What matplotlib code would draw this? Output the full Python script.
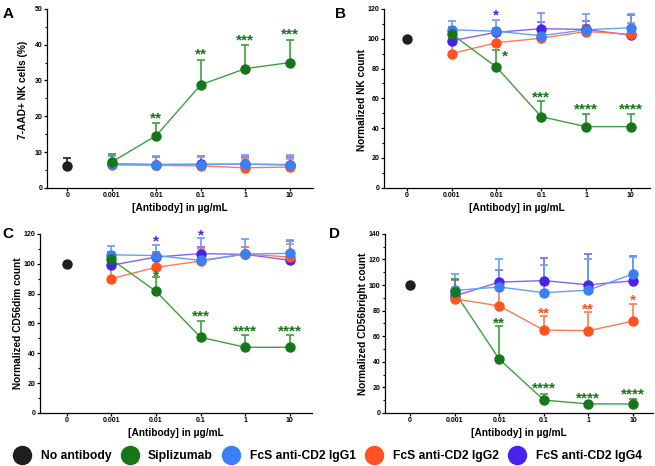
import numpy as np
import matplotlib
matplotlib.use("Agg")
import matplotlib.pyplot as plt
from matplotlib.lines import Line2D
from matplotlib.ticker import MultipleLocator

doses = ["0", "0.001", "0.01", "0.1", "1", "10"]

names = ["No antibody", "Siplizumab", "FcS anti-CD2 IgG1", "FcS anti-CD2 IgG2", "FcS anti-CD2 IgG4"]
colors = ["#1b1f1f", "#17761a", "#3a80f2", "#ff5322", "#4a22ef"]
line_colors = ["#1b1f1f", "#3ca13c", "#62a0f7", "#ff7a52", "#8a5ef5"]

# panel A: 7-AAD+ NK cells (%)  -- mean, upper error
a_none = (6.1, 8.4)
a_sip = [7.2, 14.6, 28.8, 33.3, 35.0]
a_sip_err = [9.5, 18.0, 35.6, 39.8, 41.3]
a_g1 = [6.6, 6.5, 6.5, 6.6, 6.5]
a_g1_err = [8.8, 8.7, 8.8, 9.2, 9.2]
a_g2 = [6.4, 6.3, 6.1, 5.6, 5.8]
a_g2_err = [9.0, 8.8, 8.7, 8.0, 8.0]
a_g4 = [6.7, 6.5, 6.6, 6.6, 6.4]
a_g4_err = [9.3, 8.6, 8.8, 8.6, 8.5]

# panel B: normalized NK count
b_none = (100, 100)
b_sip = [103.2, 81.0, 47.7, 41.0, 41.0]
b_sip_err = [107.0, 92.3, 58.5, 49.5, 49.5]
b_g1 = [106.0, 105.0, 102.0, 106.0, 107.3]
b_g1_err = [112.0, 112.8, 117.0, 116.5, 116.5]
b_g2 = [90.0, 97.3, 100.3, 104.8, 103.0]
b_g2_err = [106.0, 107.0, 105.0, 109.5, 110.5]
b_g4 = [98.6, 104.3, 106.7, 106.2, 102.3]
b_g4_err = [108.0, 107.0, 111.2, 112.0, 116.0]

# panel C: normalized CD56dim count
c_none = (100, 100)
c_sip = [103.0, 81.5, 50.7, 44.0, 44.0]
c_sip_err = [106.0, 91.0, 61.5, 52.5, 52.5]
c_g1 = [106.0, 105.5, 102.3, 106.5, 107.0]
c_g1_err = [112.0, 112.5, 117.0, 116.5, 116.0]
c_g2 = [90.0, 97.6, 101.8, 106.5, 104.5]
c_g2_err = [107.0, 108.0, 110.0, 111.5, 113.0]
c_g4 = [99.0, 104.5, 106.8, 106.3, 102.3]
c_g4_err = [108.0, 108.0, 111.0, 111.0, 115.5]

# panel D: normalized CD56bright count
d_none = (100, 100)
d_sip = [94.5, 42.0, 10.0, 7.0, 7.0]
d_sip_err = [104.5, 68.0, 15.0, 7.5, 10.5]
d_g1 = [95.8, 98.5, 94.0, 96.0, 108.7]
d_g1_err = [109.0, 120.5, 116.0, 120.0, 122.0]
d_g2 = [89.2, 83.7, 64.8, 64.3, 71.8]
d_g2_err = [104.5, 98.0, 75.8, 79.3, 85.5]
d_g4 = [91.5, 102.3, 103.5, 100.2, 103.3]
d_g4_err = [104.0, 112.0, 121.5, 124.0, 122.5]

# significance marks: (dose index, y, text, series index, x offset)
a_stars = [(2, 19.7, "**", 1, 0), (3, 37.5, "**", 1, 0), (4, 41.4, "***", 1, 0), (5, 43.1, "***", 1, 0)]
b_stars = [(2, 116.0, "*", 4, 0), (2, 89.0, "*", 1, 0.2), (3, 61.5, "***", 1, 0),
           (4, 53.5, "****", 1, 0), (5, 53.5, "****", 1, 0)]
c_stars = [(2, 116.0, "*", 4, 0), (3, 119.5, "*", 4, 0), (2, 92.5, "*", 1, 0),
           (3, 65.5, "***", 1, 0), (4, 55.5, "****", 1, 0), (5, 55.5, "****", 1, 0)]
d_stars = [(2, 71.0, "**", 1, 0), (3, 79.0, "**", 3, 0), (4, 81.5, "**", 3, 0), (5, 88.5, "*", 3, 0),
           (3, 20.0, "****", 1, 0), (4, 12.5, "****", 1, 0), (5, 15.0, "****", 1, 0)]

fig = plt.figure(figsize=(6.55, 4.66), dpi=100)
plt.rcParams["font.family"] = "Liberation Sans"


def draw_panel(rect, xlim, ymax, ymajor, yminor, ylabel, ylab_xy, none, series, errs, stars):
    ax = fig.add_axes(rect)
    xs = np.arange(1, 6)
    # draw order: IgG4, IgG2, IgG1, Siplizumab
    for i in [4, 3, 2, 1]:
        m = np.array(series[i - 1])
        e = np.array(errs[i - 1]) - m
        ax.errorbar(xs, m, yerr=[np.zeros_like(e), e], fmt="none", ecolor=line_colors[i],
                    elinewidth=1.2, capsize=2.8, capthick=1.2, zorder=2)
        ax.plot(xs, m, "-", color=line_colors[i], lw=1.0, zorder=3)
        ax.plot(xs, m, "o", color=colors[i], ms=6.5, zorder=4)
    ax.errorbar([0], [none[0]], yerr=[[0], [none[1] - none[0]]], fmt="none", ecolor=colors[0],
                elinewidth=1.2, capsize=2.8, capthick=1.2)
    ax.plot([0], [none[0]], "o", color=colors[0], ms=6.5, zorder=4)
    for xi, y, s, ci, dx in stars:
        ax.annotate(s, (xi + dx, y), xytext=(0, -0.8), textcoords="offset points",
                    color=colors[ci], fontsize=11, fontweight="bold",
                    ha="center", va="center", zorder=5)
    ax.set_xlim(*xlim)
    ax.set_ylim(0, ymax)
    ax.set_xticks(range(6))
    ax.set_xticklabels(doses)
    ax.yaxis.set_major_locator(MultipleLocator(ymajor))
    ax.yaxis.set_minor_locator(MultipleLocator(yminor))
    for sp in ["top", "right"]:
        ax.spines[sp].set_visible(False)
    for sp in ["left", "bottom"]:
        ax.spines[sp].set_linewidth(0.9)
    ax.tick_params(labelsize=5.0, length=2.5, width=0.9, pad=0.8)
    ax.tick_params(which="minor", length=1.8, width=0.8)
    for lab in ax.get_xticklabels() + ax.get_yticklabels():
        lab.set_fontweight("bold")
    ax.set_ylabel(ylabel, fontsize=7.3, fontweight="bold")
    ax.yaxis.set_label_coords(*ylab_xy)
    ax.set_xlabel("[Antibody] in \u00b5g/mL", fontsize=7.3, fontweight="bold", labelpad=2.5)
    return ax


draw_panel([0.072, 0.597, 0.406, 0.384], (-0.45, 5.52), 50, 10, 5, "7-AAD+ NK cells (%)", (-0.073, 0.55),
           a_none, [a_sip, a_g1, a_g2, a_g4], [a_sip_err, a_g1_err, a_g2_err, a_g4_err], a_stars)
draw_panel([0.586, 0.597, 0.406, 0.384], (-0.51, 5.42), 120, 20, 10, "Normalized NK count", (-0.064, 0.49),
           b_none, [b_sip, b_g1, b_g2, b_g4], [b_sip_err, b_g1_err, b_g2_err, b_g4_err], b_stars)
draw_panel([0.061, 0.114, 0.415, 0.384], (-0.6, 5.49), 120, 20, 10, "Normalized CD56dim count", (-0.063, 0.5),
           c_none, [c_sip, c_g1, c_g2, c_g4], [c_sip_err, c_g1_err, c_g2_err, c_g4_err], c_stars)
draw_panel([0.588, 0.114, 0.409, 0.384], (-0.56, 5.45), 140, 20, 10, "Normalized CD56bright count", (-0.064, 0.5),
           d_none, [d_sip, d_g1, d_g2, d_g4], [d_sip_err, d_g1_err, d_g2_err, d_g4_err], d_stars)

for s, x, y in [("A", 0.004, 0.985), ("B", 0.512, 0.985), ("C", 0.004, 0.512), ("D", 0.503, 0.512)]:
    fig.text(x, y, s, fontsize=11, fontweight="bold", ha="left", va="top")

handles = [Line2D([], [], ls="none", marker="o", ms=13, color=c) for c in colors]
fig.legend(handles, names, loc="center", bbox_to_anchor=(0.5, 0.021), ncol=5, frameon=False,
           prop={"size": 8.7, "weight": "bold"}, handletextpad=0.8, columnspacing=0.8,
           handlelength=1.45)

fig.savefig("out.png", dpi=100)
